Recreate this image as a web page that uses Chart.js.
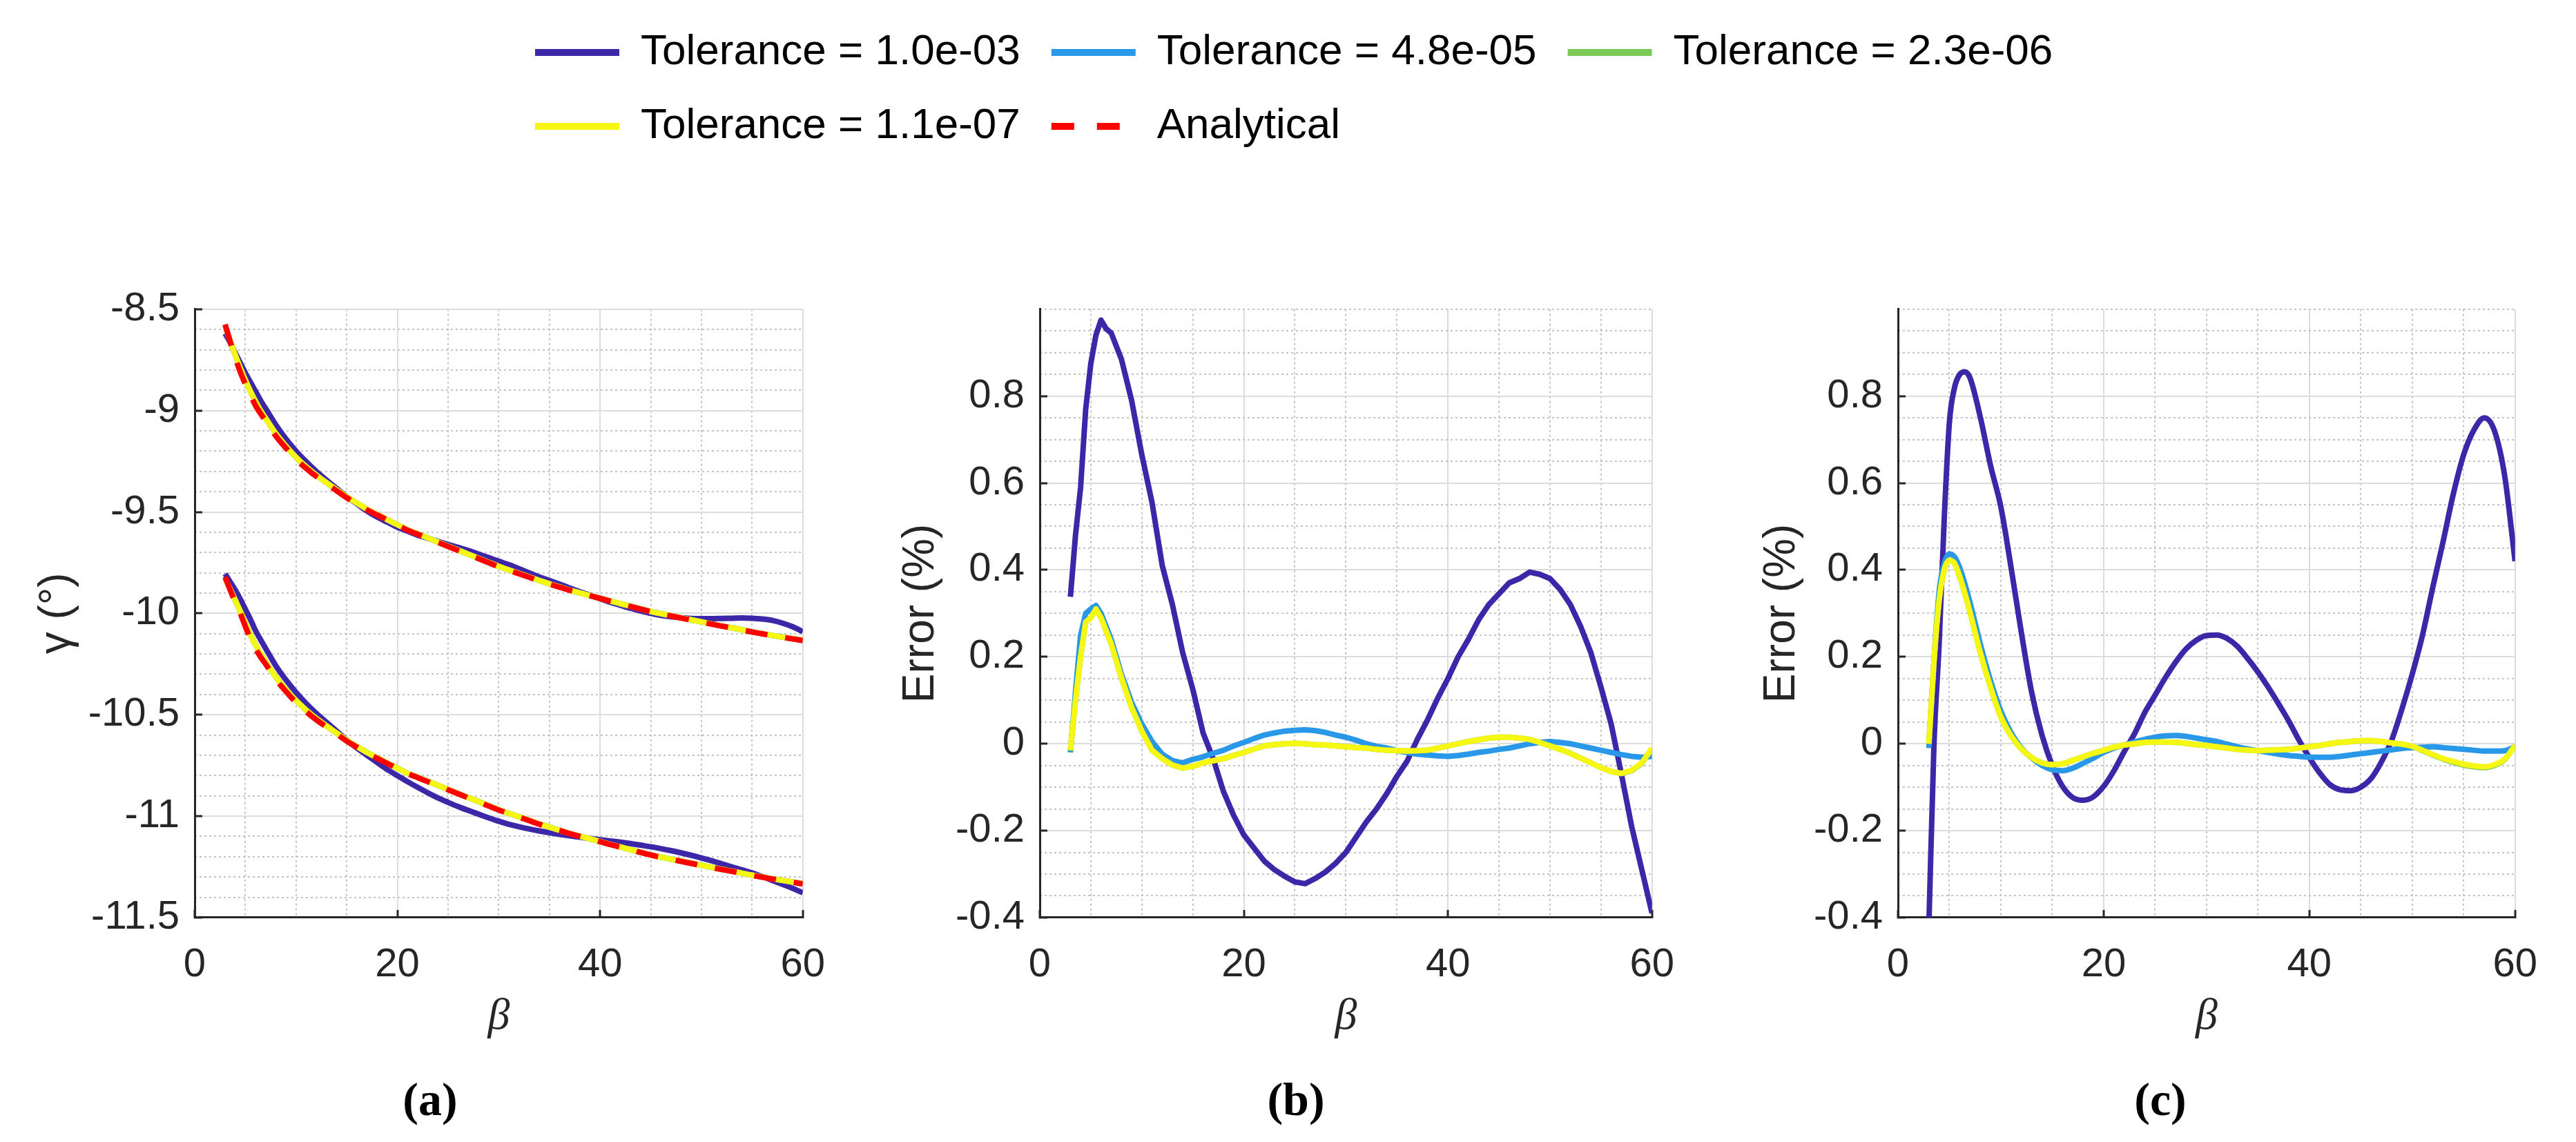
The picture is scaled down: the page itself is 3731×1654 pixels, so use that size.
<!DOCTYPE html>
<html>
<head>
<meta charset="utf-8">
<script src="https://cdn.jsdelivr.net/npm/chart.js@4.4.1/dist/chart.umd.min.js"></script>
<style>
  html, body { margin: 0; padding: 0; background: #fff; overflow: hidden; }
  body { width: 3731px; height: 1654px; position: relative; }
  canvas { position: absolute; }
</style>
</head>
<body>
<canvas id="legend" width="2700" height="300" style="left:730px;top:0px;width:2700px;height:300px"></canvas>
<canvas id="panelA" width="1240" height="1274" style="left:0px;top:380px;width:1240px;height:1274px"></canvas>
<canvas id="panelB" width="1234" height="1274" style="left:1236px;top:380px;width:1234px;height:1274px"></canvas>
<canvas id="panelC" width="1240" height="1274" style="left:2480px;top:380px;width:1240px;height:1274px"></canvas>
<script>
// beta samples shared by every curve
const beta = [3, 3.5, 4, 4.5, 5, 5.5, 6, 6.5, 7,
  8, 9, 10, 11, 12, 13, 14, 15, 16, 17, 18, 19, 20,
  21, 22, 23, 24, 25, 26, 27, 28, 29, 30,
  31, 32, 33, 34, 35, 36, 37, 38, 39, 40,
  41, 42, 43, 44, 45, 46, 47, 48, 49, 50,
  51, 52, 53, 54, 55, 56, 57, 58, 59, 60];

const legendLabels = ['Tolerance = 1.0e-03', 'Tolerance = 4.8e-05', 'Tolerance = 2.3e-06', 'Tolerance = 1.1e-07', 'Analytical'];
const xTicks = [0, 20, 40, 60];
const xMinorTicks = [5, 10, 15, 25, 30, 35, 45, 50, 55];
const gammaTicks = [-11.5, -11, -10.5, -10, -9.5, -9, -8.5];
const gammaMinorTicks = [-11.4, -11.3, -11.2, -11.1, -10.9, -10.8, -10.7, -10.6, -10.4, -10.3, -10.2, -10.1,
  -9.9, -9.8, -9.7, -9.6, -9.4, -9.3, -9.2, -9.1, -8.9, -8.8, -8.7, -8.6];
const errTicks = [-0.4, -0.2, 0, 0.2, 0.4, 0.6, 0.8];
const errMinorTicks = [-0.35, -0.3, -0.25, -0.15, -0.1, -0.05, 0.05, 0.1, 0.15, 0.25, 0.3, 0.35,
  0.45, 0.5, 0.55, 0.65, 0.7, 0.75, 0.85, 0.9, 0.95, 1.0];

// (a) gamma, upper branch
const gUpTol1 = [-8.62, -8.665, -8.715, -8.765, -8.815, -8.86, -8.905, -8.95, -8.99,
  -9.07, -9.14, -9.2, -9.252, -9.3, -9.343, -9.384, -9.424, -9.46, -9.495, -9.525, -9.55, -9.575,
  -9.595, -9.615, -9.63, -9.645, -9.66, -9.675, -9.69, -9.708, -9.725, -9.743,
  -9.76, -9.78, -9.8, -9.82, -9.838, -9.856, -9.875, -9.893, -9.91, -9.928,
  -9.945, -9.96, -9.975, -9.988, -10.0, -10.01, -10.017, -10.022, -10.025, -10.026,
  -10.026, -10.025, -10.024, -10.023, -10.024, -10.028, -10.035, -10.048, -10.066, -10.09];
const gUpTol4 = [-8.585, -8.655, -8.725, -8.79, -8.85, -8.905, -8.955, -9.0, -9.038,
  -9.113, -9.175, -9.23, -9.277, -9.318, -9.355, -9.39, -9.425, -9.456, -9.486, -9.512, -9.538, -9.563,
  -9.588, -9.608, -9.628, -9.648, -9.668, -9.688, -9.708, -9.728, -9.748, -9.768,
  -9.786, -9.803, -9.82, -9.838, -9.854, -9.87, -9.885, -9.899, -9.912, -9.925,
  -9.939, -9.952, -9.965, -9.978, -9.991, -10.002, -10.012, -10.022, -10.032, -10.042,
  -10.052, -10.062, -10.071, -10.081, -10.091, -10.1, -10.109, -10.117, -10.125, -10.133];
const gUpAnalytical = [-8.575, -8.66, -8.74, -8.81, -8.87, -8.925, -8.975, -9.015, -9.05,
  -9.125, -9.185, -9.24, -9.285, -9.325, -9.36, -9.395, -9.43, -9.46, -9.49, -9.515, -9.54, -9.565,
  -9.59, -9.61, -9.63, -9.65, -9.67, -9.69, -9.71, -9.73, -9.75, -9.77,
  -9.787, -9.805, -9.822, -9.84, -9.856, -9.871, -9.886, -9.9, -9.913, -9.926,
  -9.94, -9.953, -9.966, -9.979, -9.992, -10.003, -10.013, -10.023, -10.033, -10.043,
  -10.053, -10.063, -10.072, -10.082, -10.092, -10.101, -10.11, -10.118, -10.126, -10.134];

// (a) gamma, lower branch
const gLoTol1 = [-9.805, -9.845, -9.885, -9.93, -9.98, -10.03, -10.085, -10.13, -10.173,
  -10.258, -10.328, -10.39, -10.445, -10.493, -10.537, -10.58, -10.625, -10.664, -10.7, -10.735, -10.77, -10.8,
  -10.83, -10.858, -10.885, -10.91, -10.932, -10.953, -10.972, -10.99, -11.008, -11.025,
  -11.04, -11.052, -11.063, -11.073, -11.082, -11.09, -11.097, -11.104, -11.11, -11.116,
  -11.122, -11.128, -11.135, -11.143, -11.151, -11.16, -11.17, -11.181, -11.193, -11.206,
  -11.22, -11.235, -11.25, -11.265, -11.28, -11.298, -11.317, -11.336, -11.356, -11.378];
const gLoTol4 = [-9.83, -9.88, -9.935, -9.99, -10.05, -10.105, -10.155, -10.2, -10.238,
  -10.313, -10.375, -10.43, -10.477, -10.518, -10.555, -10.59, -10.625, -10.656, -10.686, -10.712, -10.738, -10.763,
  -10.788, -10.808, -10.828, -10.848, -10.868, -10.888, -10.908, -10.928, -10.948, -10.968,
  -10.986, -11.003, -11.02, -11.038, -11.054, -11.07, -11.085, -11.099, -11.112, -11.125,
  -11.139, -11.152, -11.165, -11.178, -11.191, -11.202, -11.212, -11.222, -11.232, -11.242,
  -11.252, -11.262, -11.271, -11.281, -11.291, -11.3, -11.309, -11.317, -11.325, -11.333];
const gLoAnalytical = [-9.82, -9.885, -9.945, -10.0, -10.065, -10.125, -10.175, -10.215, -10.25,
  -10.325, -10.385, -10.44, -10.485, -10.525, -10.56, -10.595, -10.63, -10.66, -10.69, -10.715, -10.74, -10.765,
  -10.79, -10.81, -10.83, -10.85, -10.87, -10.89, -10.91, -10.93, -10.95, -10.97,
  -10.987, -11.005, -11.022, -11.04, -11.056, -11.071, -11.086, -11.1, -11.113, -11.126,
  -11.14, -11.153, -11.166, -11.179, -11.192, -11.203, -11.213, -11.223, -11.233, -11.243,
  -11.253, -11.263, -11.272, -11.282, -11.292, -11.301, -11.31, -11.318, -11.326, -11.334];

// (b) error %
const errBTol1 = [0.338, 0.48, 0.59, 0.77, 0.875, 0.94, 0.975, 0.955, 0.945,
  0.885, 0.79, 0.665, 0.555, 0.41, 0.32, 0.21, 0.125, 0.025, -0.035, -0.11, -0.165, -0.21,
  -0.24, -0.27, -0.29, -0.305, -0.318, -0.322, -0.31, -0.295, -0.275, -0.25,
  -0.215, -0.18, -0.15, -0.115, -0.075, -0.04, 0.01, 0.055, 0.105, 0.15,
  0.2, 0.24, 0.285, 0.32, 0.345, 0.37, 0.38, 0.395, 0.39, 0.38,
  0.355, 0.32, 0.27, 0.21, 0.13, 0.045, -0.07, -0.19, -0.29, -0.39];
const errBTol2 = [-0.02, 0.12, 0.25, 0.3, 0.31, 0.318, 0.3, 0.27, 0.24,
  0.16, 0.095, 0.045, 0.005, -0.024, -0.039, -0.044, -0.036, -0.03, -0.022, -0.015, -0.005, 0.003,
  0.012, 0.02, 0.025, 0.029, 0.031, 0.032, 0.03, 0.026, 0.02, 0.015,
  0.008, 0.0, -0.006, -0.01, -0.016, -0.02, -0.024, -0.026, -0.028, -0.029,
  -0.027, -0.024, -0.02, -0.017, -0.013, -0.01, -0.005, 0.0, 0.003, 0.005,
  0.003, 0.0, -0.005, -0.01, -0.015, -0.02, -0.025, -0.029, -0.031, -0.029];
const errBTol3 = [-0.016, 0.1, 0.2, 0.28, 0.29, 0.31, 0.29, 0.26, 0.23,
  0.152, 0.083, 0.029, -0.015, -0.034, -0.049, -0.056, -0.052, -0.044, -0.039, -0.034, -0.027, -0.02,
  -0.012, -0.005, -0.002, 0.0, 0.001, 0.0, -0.002, -0.003, -0.005, -0.007,
  -0.009, -0.01, -0.013, -0.015, -0.016, -0.017, -0.016, -0.015, -0.01, -0.005,
  0.0, 0.005, 0.009, 0.013, 0.015, 0.015, 0.013, 0.01, 0.003, -0.005,
  -0.013, -0.022, -0.033, -0.044, -0.055, -0.064, -0.069, -0.062, -0.045, -0.011];
const errBTol4 = [-0.015, 0.1, 0.2, 0.28, 0.29, 0.31, 0.29, 0.26, 0.23,
  0.152, 0.083, 0.029, -0.015, -0.034, -0.049, -0.056, -0.052, -0.044, -0.039, -0.034, -0.027, -0.02,
  -0.012, -0.005, -0.002, 0.0, 0.001, 0.0, -0.002, -0.003, -0.005, -0.007,
  -0.009, -0.01, -0.013, -0.015, -0.016, -0.017, -0.016, -0.015, -0.01, -0.005,
  0.0, 0.005, 0.009, 0.013, 0.015, 0.015, 0.013, 0.01, 0.003, -0.005,
  -0.013, -0.022, -0.033, -0.044, -0.055, -0.064, -0.068, -0.061, -0.044, -0.01];

// (c) error %
const errCTol1 = [-0.42, 0.0, 0.23, 0.52, 0.74, 0.82, 0.85, 0.856, 0.842,
  0.752, 0.64, 0.545, 0.405, 0.255, 0.118, 0.02, -0.05, -0.098, -0.124, -0.13, -0.122, -0.098,
  -0.062, -0.018, 0.023, 0.072, 0.112, 0.152, 0.188, 0.218, 0.238, 0.249,
  0.25, 0.242, 0.224, 0.196, 0.165, 0.13, 0.092, 0.052, 0.008, -0.032,
  -0.067, -0.094, -0.106, -0.108, -0.1, -0.08, -0.042, 0.008, 0.08, 0.16,
  0.25, 0.36, 0.465, 0.575, 0.665, 0.722, 0.75, 0.72, 0.615, 0.42];
const errCTol2 = [-0.01, 0.19, 0.35, 0.415, 0.437, 0.43, 0.405, 0.368, 0.325,
  0.23, 0.145, 0.075, 0.025, -0.01, -0.033, -0.05, -0.06, -0.062, -0.056, -0.045, -0.033, -0.02,
  -0.01, -0.003, 0.004, 0.01, 0.015, 0.018, 0.019, 0.017, 0.013, 0.009,
  0.005, -0.001, -0.007, -0.012, -0.016, -0.02, -0.024, -0.027, -0.029, -0.031,
  -0.031, -0.031, -0.029, -0.026, -0.023, -0.02, -0.017, -0.014, -0.011, -0.009,
  -0.008, -0.007, -0.009, -0.011, -0.013, -0.015, -0.017, -0.017, -0.016, -0.007];
const errCTol3 = [0.0, 0.19, 0.33, 0.4, 0.422, 0.415, 0.385, 0.346, 0.303,
  0.21, 0.13, 0.062, 0.018, -0.012, -0.032, -0.044, -0.048, -0.046, -0.038, -0.03, -0.022, -0.015,
  -0.008, -0.003, 0.0, 0.003, 0.004, 0.004, 0.003, 0.001, -0.002, -0.004,
  -0.007, -0.01, -0.013, -0.015, -0.016, -0.015, -0.014, -0.013, -0.01, -0.007,
  -0.004, 0.0, 0.003, 0.005, 0.007, 0.007, 0.005, 0.002, -0.001, -0.006,
  -0.016, -0.026, -0.035, -0.043, -0.049, -0.053, -0.055, -0.05, -0.036, -0.004];
const errCTol4 = [0.0, 0.19, 0.33, 0.4, 0.422, 0.415, 0.385, 0.346, 0.303,
  0.21, 0.13, 0.062, 0.018, -0.012, -0.032, -0.044, -0.048, -0.046, -0.038, -0.03, -0.022, -0.015,
  -0.008, -0.003, 0.0, 0.003, 0.004, 0.004, 0.003, 0.001, -0.002, -0.004,
  -0.007, -0.01, -0.013, -0.015, -0.016, -0.015, -0.014, -0.013, -0.01, -0.007,
  -0.004, 0.0, 0.003, 0.005, 0.007, 0.007, 0.005, 0.002, -0.001, -0.006,
  -0.015, -0.025, -0.034, -0.041, -0.047, -0.051, -0.053, -0.048, -0.035, -0.004];

const C_DARK = '#3e26a8';
const C_LIGHT = '#2a98e8';
const C_GREEN = '#7cc857';
const C_YELLOW = '#f7f714';
const C_RED = '#ff0000';
const AXIS = '#262626';
const GRID = '#dcdcdc';
const MINOR = '#c4c4c4';
const DASH = [32, 26];

Chart.defaults.font.family = '"Liberation Sans", Arial, sans-serif';

function series(label, ys, color, order, smooth, dash) {
  return {
    label: label,
    data: beta.map((b, i) => ({x: b, y: ys[i]})),
    borderColor: color,
    backgroundColor: color,
    borderWidth: 8,
    borderDash: dash || [],
    borderJoinStyle: 'round',
    pointRadius: 0,
    fill: false,
    order: order,
    tension: smooth ? 0.4 : 0,
    cubicInterpolationMode: smooth ? 'monotone' : 'default'
  };
}

function panel(id, p) {
  return new Chart(document.getElementById(id), {
    type: 'line',
    data: {datasets: p.datasets},
    options: {
      responsive: false,
      animation: false,
      devicePixelRatio: 1,
      layout: {padding: {left: p.padLeft, right: p.padRight, top: 37, bottom: 0}},
      scales: {
        x: {
          type: 'linear', position: 'bottom', min: 0, max: 60,
          afterBuildTicks: s => { s.ticks = xTicks.map(v => ({value: v})); },
          afterFit: s => { s.height = 232; },
          grid: {color: GRID, lineWidth: 2, tickLength: -11, tickColor: AXIS, tickWidth: 3},
          border: {display: true, color: AXIS, width: 3},
          ticks: {font: {size: 58}, color: AXIS, padding: 45, maxRotation: 0, autoSkip: false,
            callback: v => String(v)},
          title: {display: true, text: 'β', color: AXIS,
            font: {family: '"Liberation Serif", serif', style: 'italic', size: 64},
            padding: {top: 0, bottom: 49}}
        },
        xMinor: {
          type: 'linear', position: 'bottom', min: 0, max: 60,
          afterBuildTicks: s => { s.ticks = xMinorTicks.map(v => ({value: v})); },
          afterFit: s => { s.height = 0; },
          grid: {color: MINOR, lineWidth: 2, drawTicks: false},
          border: {display: false, dash: [3, 4]},
          ticks: {display: false}
        },
        y: {
          type: 'linear', position: 'left', min: p.yMin, max: p.yMax,
          afterBuildTicks: s => { s.ticks = p.yTicks.map(v => ({value: v})); },
          afterFit: s => { s.width = p.yWidth; },
          grid: {color: GRID, lineWidth: 2, tickLength: -11, tickColor: AXIS, tickWidth: 3},
          border: {display: true, color: AXIS, width: 3},
          ticks: {font: {size: 58}, color: AXIS, padding: 33, autoSkip: false,
            callback: v => String(v)},
          title: {display: true, text: p.yTitle, color: AXIS, font: {size: 64},
            padding: {top: p.yTitlePad, bottom: 0}}
        },
        yMinor: {
          type: 'linear', position: 'left', min: p.yMin, max: p.yMax,
          afterBuildTicks: s => { s.ticks = p.yMinorTicks.map(v => ({value: v})); },
          afterFit: s => { s.width = 0; },
          grid: {color: MINOR, lineWidth: 2, drawTicks: false},
          border: {display: false, dash: [3, 4]},
          ticks: {display: false}
        }
      },
      plugins: {
        legend: {display: false},
        tooltip: {enabled: false},
        title: {display: true, position: 'bottom', text: p.caption, color: '#000',
          font: {family: '"Liberation Serif", serif', weight: 'bold', size: 68, lineHeight: 1.06},
          padding: {top: 0, bottom: 21}}
      }
    }
  });
}

panel('panelA', {
  padLeft: 52, padRight: 46, yWidth: 230, yTitlePad: -7,
  yMin: -11.5, yMax: -8.5, yTicks: gammaTicks, yMinorTicks: gammaMinorTicks,
  yTitle: 'γ (°)', caption: '(a)',
  datasets: [
    series(legendLabels[0], gUpTol1, C_DARK, 5, true),
    series(legendLabels[0], gLoTol1, C_DARK, 5, true),
    series(legendLabels[1], gUpTol4, C_LIGHT, 4, true),
    series(legendLabels[1], gLoTol4, C_LIGHT, 4, true),
    series(legendLabels[2], gUpTol4, C_GREEN, 3, true),
    series(legendLabels[2], gLoTol4, C_GREEN, 3, true),
    series(legendLabels[3], gUpTol4, C_YELLOW, 2, true),
    series(legendLabels[3], gLoTol4, C_YELLOW, 2, true),
    series(legendLabels[4], gUpAnalytical, C_RED, 1, true, DASH),
    series(legendLabels[4], gLoAnalytical, C_RED, 1, true, DASH)
  ]
});

panel('panelB', {
  padLeft: 100, padRight: 52, yWidth: 170, yTitlePad: -40,
  yMin: -0.4, yMax: 1.0, yTicks: errTicks, yMinorTicks: errMinorTicks,
  yTitle: 'Error (%)', caption: '(b)',
  datasets: [
    series(legendLabels[0], errBTol1, C_DARK, 5, false),
    series(legendLabels[1], errBTol2, C_LIGHT, 4, false),
    series(legendLabels[2], errBTol3, C_GREEN, 3, false),
    series(legendLabels[3], errBTol4, C_YELLOW, 2, false)
  ]
});

panel('panelC', {
  padLeft: 117, padRight: 59, yWidth: 152, yTitlePad: -54,
  yMin: -0.4, yMax: 1.0, yTicks: errTicks, yMinorTicks: errMinorTicks,
  yTitle: 'Error (%)', caption: '(c)',
  datasets: [
    series(legendLabels[0], errCTol1, C_DARK, 5, true),
    series(legendLabels[1], errCTol2, C_LIGHT, 4, true),
    series(legendLabels[2], errCTol3, C_GREEN, 3, true),
    series(legendLabels[3], errCTol4, C_YELLOW, 2, true)
  ]
});

// shared legend above the three panels
const legendColors = [C_DARK, C_LIGHT, C_GREEN, C_YELLOW, C_RED];
new Chart(document.getElementById('legend'), {
  type: 'line',
  data: {
    datasets: legendLabels.map((l, i) => ({
      label: l, data: [], borderColor: legendColors[i], backgroundColor: legendColors[i],
      borderDash: i === 4 ? [33, 33] : []
    }))
  },
  options: {
    responsive: false,
    animation: false,
    devicePixelRatio: 1,
    layout: {padding: 0},
    scales: {x: {display: false}, y: {display: false}},
    plugins: {
      tooltip: {enabled: false},
      legend: {
        position: 'top', align: 'start', maxHeight: 300,
        labels: {
          usePointStyle: true, pointStyle: 'line', pointStyleWidth: 122,
          padding: 45, color: '#000', font: {size: 62},
          generateLabels: chart => chart.data.datasets.map((ds, i) => ({
            text: ds.label, fillStyle: ds.borderColor, strokeStyle: ds.borderColor,
            fontColor: '#000', lineWidth: 10, lineDash: ds.borderDash, lineCap: 'butt',
            pointStyle: 'line', hidden: false, datasetIndex: i
          }))
        }
      }
    }
  }
});
</script>
</body>
</html>
